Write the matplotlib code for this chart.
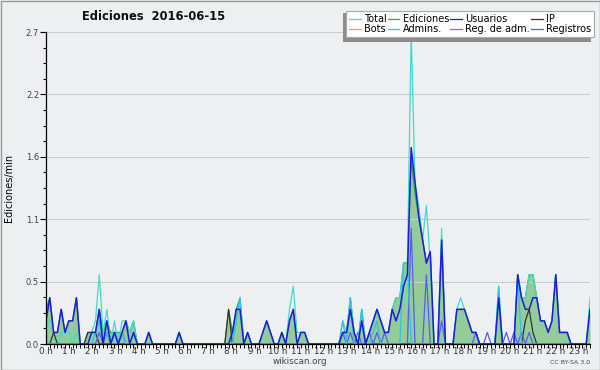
import numpy as np
import matplotlib.pyplot as plt
from matplotlib.lines import Line2D
from matplotlib.patches import Rectangle

# counts per 10-minute slot (0:00 .. 23:50), shown as edits/min
total = [2, 2, 1, 0, 1, 1, 1, 0, 1, 0, 0, 0,
         1, 2, 6, 1, 3, 0, 2, 0, 2, 2, 1, 2,
         0, 0, 0, 1, 0, 0, 0, 0, 0, 0, 0, 1,
         0, 0, 0, 0, 0, 0, 0, 0, 0, 0, 0, 0,
         0, 0, 2, 4, 0, 1, 0, 0, 0, 1, 2, 1,
         0, 0, 1, 0, 3, 5, 1, 1, 1, 0, 0, 0,
         0, 0, 0, 0, 0, 0, 2, 1, 4, 1, 0, 3,
         0, 1, 2, 3, 2, 1, 1, 3, 4, 4, 7, 7,
         27, 14, 12, 9, 12, 7, 0, 0, 10, 0, 0, 0,
         3, 4, 3, 2, 1, 1, 0, 0, 0, 0, 0, 5,
         0, 0, 0, 0, 6, 4, 4, 6, 6, 4, 2, 2,
         1, 2, 6, 1, 1, 1, 0, 0, 0, 0, 0, 4]
ediciones = [3, 4, 1, 1, 3, 1, 2, 2, 4, 0, 0, 1,
             1, 1, 3, 1, 2, 1, 1, 1, 1, 2, 1, 2,
             0, 0, 0, 1, 0, 0, 0, 0, 0, 0, 0, 1,
             0, 0, 0, 0, 0, 0, 0, 0, 0, 0, 0, 0,
             3, 1, 3, 4, 0, 1, 0, 0, 0, 1, 2, 1,
             0, 0, 1, 0, 2, 3, 0, 1, 1, 0, 0, 0,
             0, 0, 0, 0, 0, 0, 1, 1, 4, 1, 0, 3,
             0, 1, 2, 3, 2, 1, 1, 3, 4, 4, 7, 7,
             16, 13, 11, 9, 7, 8, 0, 0, 9, 0, 0, 0,
             3, 3, 3, 2, 1, 1, 0, 0, 0, 0, 0, 4,
             0, 0, 0, 0, 6, 4, 4, 6, 6, 4, 2, 2,
             1, 2, 6, 1, 1, 1, 0, 0, 0, 0, 0, 3]
usuarios = [2, 4, 1, 1, 3, 1, 2, 2, 4, 0, 0, 0,
            1, 1, 3, 0, 2, 0, 1, 0, 1, 2, 0, 1,
            0, 0, 0, 1, 0, 0, 0, 0, 0, 0, 0, 1,
            0, 0, 0, 0, 0, 0, 0, 0, 0, 0, 0, 0,
            0, 1, 3, 3, 0, 1, 0, 0, 0, 1, 2, 1,
            0, 0, 1, 0, 2, 3, 0, 1, 1, 0, 0, 0,
            0, 0, 0, 0, 0, 0, 1, 1, 3, 1, 0, 2,
            0, 1, 2, 3, 2, 1, 1, 3, 2, 3, 5, 6,
            17, 14, 11, 9, 7, 8, 0, 0, 9, 0, 0, 0,
            3, 3, 3, 2, 1, 1, 0, 0, 0, 0, 0, 4,
            0, 0, 0, 0, 6, 4, 3, 3, 4, 4, 2, 2,
            1, 2, 6, 1, 1, 1, 0, 0, 0, 0, 0, 3]
ip = [0, 0, 1, 0, 0, 0, 0, 0, 0, 0, 0, 1,
      1, 1, 0, 0, 0, 0, 0, 0, 0, 0, 0, 0,
      0, 0, 0, 0, 0, 0, 0, 0, 0, 0, 0, 0,
      0, 0, 0, 0, 0, 0, 0, 0, 0, 0, 0, 0,
      3, 0, 0, 0, 0, 0, 0, 0, 0, 0, 0, 0,
      0, 0, 0, 0, 0, 0, 0, 0, 0, 0, 0, 0,
      0, 0, 0, 0, 0, 0, 0, 0, 0, 0, 0, 0,
      0, 0, 0, 0, 0, 0, 0, 0, 0, 0, 0, 0,
      0, 0, 0, 0, 0, 0, 0, 0, 0, 0, 0, 0,
      0, 0, 0, 0, 0, 0, 0, 0, 0, 0, 0, 0,
      0, 0, 0, 0, 0, 0, 2, 3, 1, 0, 0, 0,
      0, 0, 0, 0, 0, 0, 0, 0, 0, 0, 0, 0]
admins = [0, 0, 0, 0, 0, 0, 0, 0, 0, 0, 0, 0,
          0, 1, 2, 0, 1, 0, 0, 0, 1, 0, 0, 0,
          0, 0, 0, 0, 0, 0, 0, 0, 0, 0, 0, 0,
          0, 0, 0, 0, 0, 0, 0, 0, 0, 0, 0, 0,
          0, 0, 2, 4, 0, 0, 0, 0, 0, 0, 0, 0,
          0, 0, 0, 0, 0, 0, 0, 0, 0, 0, 0, 0,
          0, 0, 0, 0, 0, 0, 2, 0, 4, 0, 0, 3,
          0, 0, 1, 2, 0, 0, 0, 0, 0, 0, 7, 7,
          0, 0, 0, 0, 0, 0, 0, 0, 0, 0, 0, 0,
          0, 0, 0, 0, 0, 0, 0, 0, 0, 0, 0, 5,
          0, 0, 0, 0, 6, 0, 0, 0, 0, 0, 0, 0,
          0, 0, 0, 0, 0, 0, 0, 0, 0, 0, 0, 0]
registros = [0, 0, 0, 0, 0, 0, 0, 0, 0, 0, 0, 0,
             0, 0, 1, 0, 1, 0, 1, 0, 1, 0, 0, 0,
             0, 0, 0, 0, 0, 0, 0, 0, 0, 0, 0, 0,
             0, 0, 0, 0, 0, 0, 0, 0, 0, 0, 0, 0,
             0, 0, 0, 0, 0, 0, 0, 0, 0, 0, 0, 0,
             0, 0, 0, 0, 0, 0, 0, 0, 0, 0, 0, 0,
             0, 0, 0, 0, 0, 0, 1, 0, 1, 0, 1, 0,
             0, 1, 0, 1, 0, 1, 0, 0, 0, 0, 0, 0,
             10, 0, 0, 0, 6, 0, 0, 0, 2, 0, 0, 0,
             0, 0, 0, 0, 0, 1, 0, 0, 1, 0, 0, 0,
             0, 1, 0, 1, 0, 1, 0, 1, 0, 0, 0, 0,
             0, 0, 0, 0, 0, 0, 0, 0, 0, 0, 0, 0]
bots = [0] * 144
reg_adm = [0] * 144

hours = list(range(24))
yticks = [0.0, 0.54, 1.08, 1.62, 2.16, 2.7]
ylabels = ["0.0", "0.5", "1.1", "1.6", "2.2", "2.7"]

bg = "#eeeff0"
c_total = "#3fdccb"
c_edit = "#3aa53a"
c_fill = "#8fcb93"
c_user = "#1c1ce0"
c_ip = "#333333"
c_bots = "#f7a030"
c_admin = "#2cc4e4"
c_regadm = "#c24ee8"
c_reg = "#5a5af5"

x = np.arange(144)
per_min = lambda a: np.array(a) / 10.0

fig = plt.figure(figsize=(6, 3.7), dpi=100, facecolor=bg)
ax = fig.add_axes([46 / 600, 26 / 370, 544 / 600, 312 / 370])
ax.set_facecolor(bg)

ax.fill_between(x, per_min(ediciones), color=c_fill, alpha=0.95, lw=0, zorder=1)
ax.plot(x, per_min(ediciones), color=c_edit, lw=0.9, zorder=2)
ax.plot(x, per_min(total), color=c_total, lw=0.9, zorder=3)
ax.plot(x, per_min(bots), color=c_bots, lw=0.9, zorder=1.5)
ax.plot(x, per_min(reg_adm), color=c_regadm, lw=0.9, zorder=1.5)
ax.plot(x, per_min(ip), color=c_ip, lw=0.9, zorder=4)
ax.plot(x, per_min(registros), color=c_reg, lw=0.9, zorder=4)
ax.plot(x, per_min(admins), color=c_admin, lw=0.9, zorder=4)
ax.plot(x, per_min(usuarios), color=c_user, lw=1.1, zorder=5)

ax.set_xlim(0, 143)
ax.set_ylim(0, 2.7)
for s in ["top", "right"]:
    ax.spines[s].set_visible(False)
for s in ["left", "bottom"]:
    ax.spines[s].set_linewidth(0.9)
    ax.spines[s].set_zorder(6)

ax.set_yticks(yticks)
ax.set_yticklabels(ylabels, fontsize=6, color="#444444")
ax.set_yticks(np.arange(0, 2.71, 0.135), minor=True)
ax.tick_params(axis="y", which="major", length=4, width=0.8, pad=1)
ax.tick_params(axis="y", which="minor", length=2, width=0.8)
ax.grid(axis="y", which="major", color="#cccccc", lw=0.8, zorder=0)

ax.set_xticks([6.09 * h for h in hours])
ax.set_xticklabels([f"{h} h" for h in hours], fontsize=6.3, color="#333333")
ax.set_xticks(x, minor=True)
ax.tick_params(axis="x", which="major", length=0, pad=2.5)
ax.tick_params(axis="x", which="minor", length=3, width=0.7)

ax.set_ylabel("Ediciones/min", fontsize=7)
ax.yaxis.set_label_coords(-32 / 544, 0.5)

fig.text(154 / 600, 1 - 17 / 370, "Ediciones  2016-06-15", ha="center", va="center",
         fontsize=8.3, fontweight="bold", color="#111111")
fig.text(300 / 600, 1 - 362 / 370, "wikiscan.org", ha="center", va="center",
         fontsize=6.3, color="#444444")
fig.text(590 / 600, 1 - 362 / 370, "CC BY-SA 3.0", ha="right", va="center",
         fontsize=4.5, color="#444444")

# legend with a drop shadow (offset left/down)
names = ["Total", "Bots", "Ediciones", "Admins.", "Usuarios", "Reg. de adm.", "IP", "Registros"]
cols = [c_total, c_bots, c_edit, c_admin, c_user, c_regadm, c_ip, c_reg]
handles = [Line2D([], [], color=c, lw=0.9) for c in cols]
lx0, ly0, lw_, lh_ = 346, 11, 248, 29
fig.patches.append(Rectangle(((lx0 - 3) / 600, 1 - (ly0 + lh_ + 2) / 370), lw_ / 600, lh_ / 370,
                             transform=fig.transFigure, facecolor="#8c8c8c",
                             edgecolor="none", zorder=9))
leg = fig.legend(handles, names, ncol=4, loc="upper left",
                 bbox_to_anchor=(lx0 / 600, 1 - (ly0 + lh_) / 370, lw_ / 600, lh_ / 370),
                 mode="expand", fontsize=7.0, frameon=True, fancybox=False,
                 handlelength=1.2, handletextpad=0.35, columnspacing=0.2,
                 labelspacing=0.05, borderpad=0.3, borderaxespad=0)
leg.get_frame().set_edgecolor("#aaaaaa")
leg.get_frame().set_linewidth(0.8)
leg.get_frame().set_alpha(1)
leg.set_zorder(10)

fig.patches.append(Rectangle((0.5 / 600, 0.5 / 370), 599 / 600, 369 / 370,
                             transform=fig.transFigure, fill=False,
                             edgecolor="#999999", lw=1))

fig.savefig("out.png", dpi=100, facecolor=bg)
